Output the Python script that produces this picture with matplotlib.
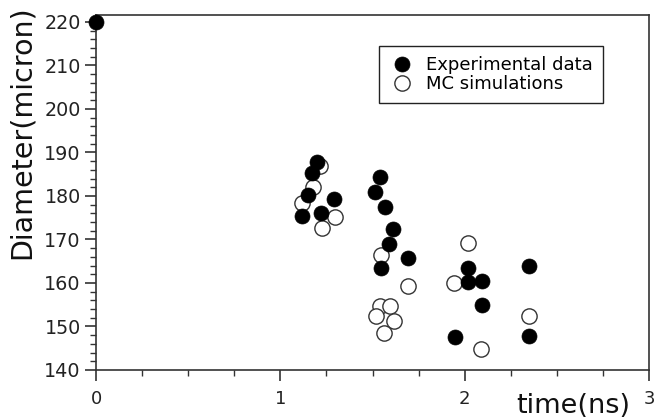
import numpy as np
import matplotlib
matplotlib.use('Agg')
import matplotlib.pyplot as plt
from matplotlib.ticker import MultipleLocator

plt.rcParams['font.family'] = 'DejaVu Sans'

# experimental data (filled circles)
exp_time = [0.0, 1.197, 1.170, 1.149, 1.119, 1.221, 1.293,
            1.541, 1.514, 1.568, 1.613, 1.591, 1.546, 1.691,
            2.017, 2.017, 2.093, 2.093, 1.948, 2.351, 2.351]
exp_diam = [220.0, 187.9, 185.2, 180.2, 175.4, 176.0, 179.3,
            184.4, 181.0, 177.5, 172.3, 168.9, 163.4, 165.7,
            163.4, 160.3, 160.5, 154.9, 147.7, 164.0, 147.8]

# MC simulations (open circles)
mc_time = [1.215, 1.179, 1.119, 1.297, 1.225, 1.545, 1.691, 1.541,
           1.595, 1.519, 1.617, 1.564, 2.017, 1.943, 2.089, 2.351]
mc_diam = [186.8, 182.1, 178.3, 175.2, 172.6, 166.4, 159.3, 154.6,
           154.7, 152.3, 151.3, 148.4, 169.3, 160.1, 144.8, 152.5]

fig = plt.figure(figsize=(6.54, 4.2), dpi=100)
ax = fig.add_axes([96/654, 50/420, 553/654, 355/420])

ax.plot(mc_time, mc_diam, 'o', ms=11, mfc='white', mec='#333333', mew=1.0,
        label='MC simulations', clip_on=False, zorder=3)
ax.plot(exp_time, exp_diam, 'o', ms=10.8, mfc='black', mec='black', mew=0.5,
        label='Experimental data', clip_on=False, zorder=4)

ax.set_xlim(0, 3)
ax.set_ylim(140, 221.6)
ax.xaxis.set_major_locator(MultipleLocator(1))
ax.xaxis.set_minor_locator(MultipleLocator(0.25))
ax.yaxis.set_major_locator(MultipleLocator(10))
ax.yaxis.set_minor_locator(MultipleLocator(2))

for s in ax.spines.values():
    s.set_color('#333333')
    s.set_linewidth(1.2)

ax.tick_params(which='major', direction='out', length=8, width=1.2, color='#333333',
               labelcolor='#222222')
ax.tick_params(axis='x', which='major', pad=6.5, labelsize=13)
ax.tick_params(axis='y', which='major', pad=3, labelsize=13.8)
ax.tick_params(which='minor', direction='out', length=4, width=1.0, color='#333333')
ax.tick_params(top=False, right=False, which='both')

handles, labels = ax.get_legend_handles_labels()
leg = ax.legend(handles[::-1], labels[::-1], loc='upper left',
                bbox_to_anchor=((379-96)/553, (370-46)/355), borderaxespad=0,
                fontsize=13, labelspacing=0.08, borderpad=0.55, handlelength=1.45,
                handletextpad=0.6, fancybox=False, framealpha=1, edgecolor='#222222')
leg.get_frame().set_linewidth(1.0)

fig.text(22/654, 1 - 5/420, 'Diameter(micron)', rotation=90, ha='center', va='top',
         fontsize=20.5, color='#111111')
fig.text(573/654, 7/420, 'time(ns)', ha='center', va='baseline',
         fontsize=19.5, color='#111111')

fig.savefig('out.png', dpi=100)
